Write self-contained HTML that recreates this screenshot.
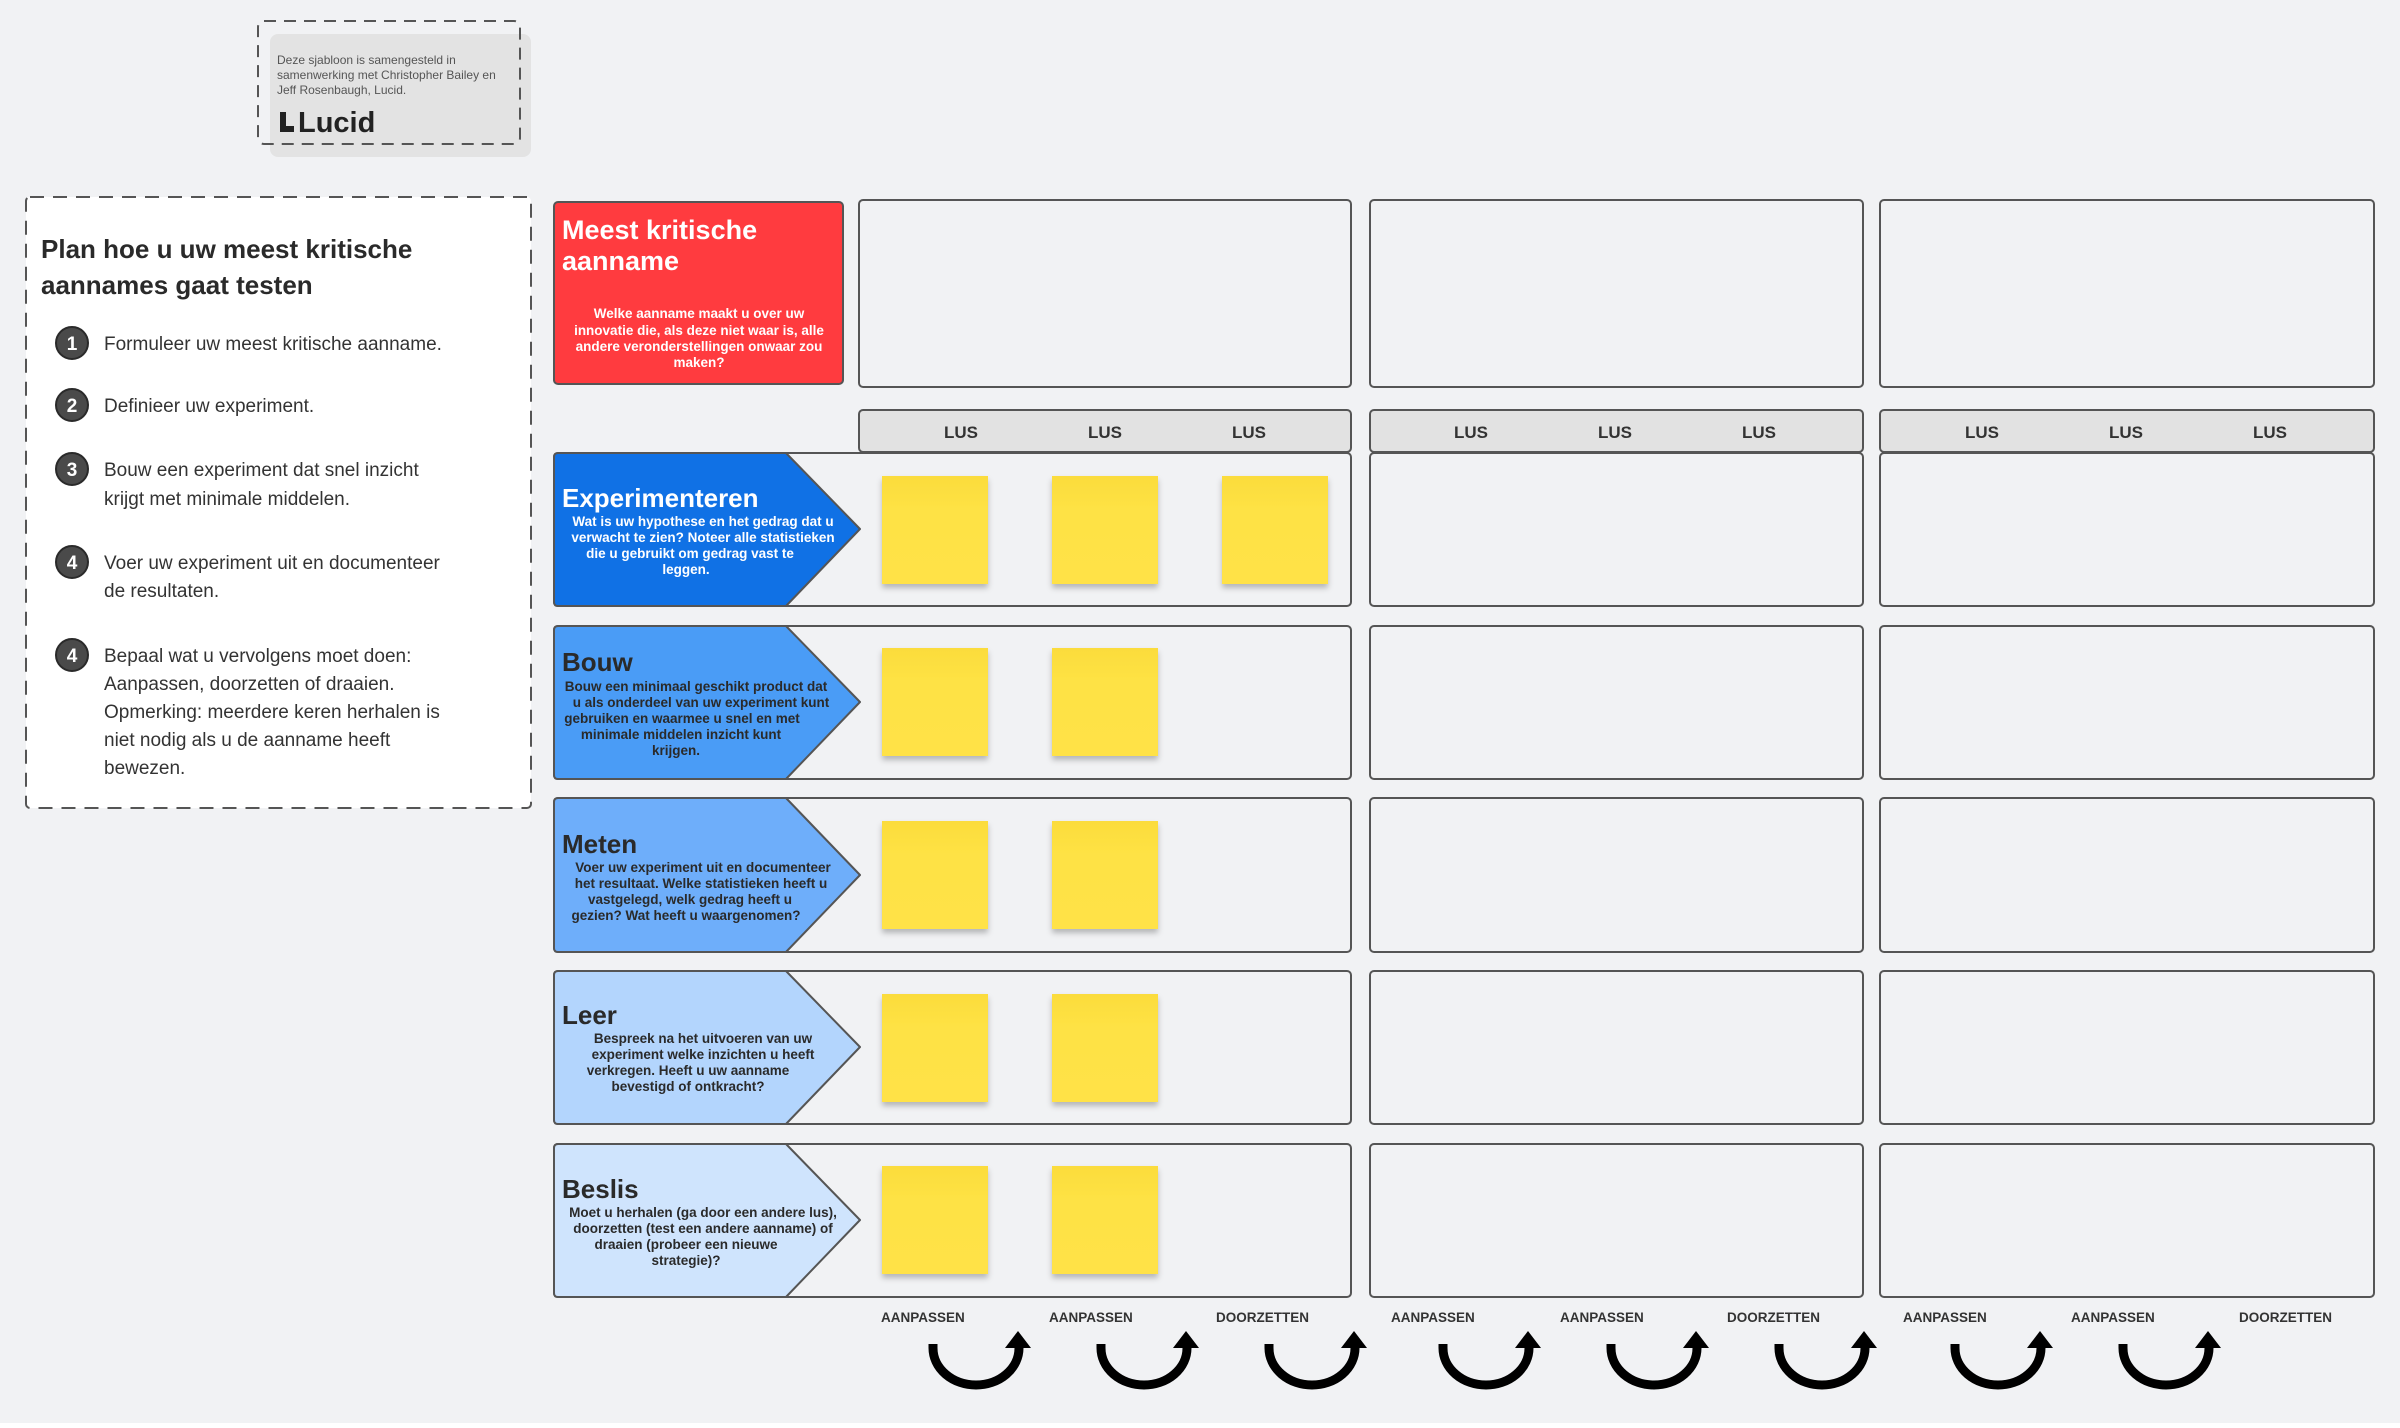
<!DOCTYPE html>
<html><head><meta charset="utf-8"><style>
html,body{margin:0;padding:0;background:#f1f2f4;}
svg{display:block;font-family:"Liberation Sans",sans-serif;}
</style></head><body>
<svg width="2400" height="1428" viewBox="0 0 2400 1428" xmlns="http://www.w3.org/2000/svg">
<rect x="0" y="0" width="2400" height="1428" fill="#f1f2f4"/>
<rect x="0" y="1423" width="2400" height="5" fill="#ffffff"/>

<!-- credit -->
<rect x="270" y="34" width="261" height="123" rx="8" fill="#e3e3e3"/>
<rect x="258" y="21" width="262" height="123" rx="6" fill="none" stroke="#555" stroke-width="2" stroke-dasharray="12 8"/>
<g font-size="12" fill="#555">
<text x="277" y="64">Deze sjabloon is samengesteld in</text>
<text x="277" y="79">samenwerking met Christopher Bailey en</text>
<text x="277" y="94">Jeff Rosenbaugh, Lucid.</text>
</g>
<polygon points="280,112 286,112 286,126 294,126 294,132 280,132" fill="#222"/>
<text x="298" y="132" font-size="29" font-weight="bold" fill="#222">Lucid</text>

<!-- left panel -->
<rect x="26" y="197" width="505" height="611" rx="4" fill="#ffffff" stroke="#555" stroke-width="2" stroke-dasharray="14 9"/>
<g font-size="26" font-weight="bold" fill="#2a2a2a">
<text x="41" y="258">Plan hoe u uw meest kritische</text>
<text x="41" y="294">aannames gaat testen</text>
</g>
<g font-size="19" fill="#333">
<circle cx="72" cy="343" r="16" fill="#4a4a4a" stroke="#2a2a2a" stroke-width="2"/><text x="72" y="350" fill="#fff" font-weight="bold" text-anchor="middle">1</text>
<text x="104" y="350">Formuleer uw meest kritische aanname.</text>
<circle cx="72" cy="405" r="16" fill="#4a4a4a" stroke="#2a2a2a" stroke-width="2"/><text x="72" y="412" fill="#fff" font-weight="bold" text-anchor="middle">2</text>
<text x="104" y="412">Definieer uw experiment.</text>
<circle cx="72" cy="469" r="16" fill="#4a4a4a" stroke="#2a2a2a" stroke-width="2"/><text x="72" y="476" fill="#fff" font-weight="bold" text-anchor="middle">3</text>
<text x="104" y="476">Bouw een experiment dat snel inzicht</text>
<text x="104" y="505">krijgt met minimale middelen.</text>
<circle cx="72" cy="562" r="16" fill="#4a4a4a" stroke="#2a2a2a" stroke-width="2"/><text x="72" y="569" fill="#fff" font-weight="bold" text-anchor="middle">4</text>
<text x="104" y="569">Voer uw experiment uit en documenteer</text>
<text x="104" y="597">de resultaten.</text>
<circle cx="72" cy="655" r="16" fill="#4a4a4a" stroke="#2a2a2a" stroke-width="2"/><text x="72" y="662" fill="#fff" font-weight="bold" text-anchor="middle">4</text>
<text x="104" y="662">Bepaal wat u vervolgens moet doen:</text>
<text x="104" y="690">Aanpassen, doorzetten of draaien.</text>
<text x="104" y="718">Opmerking: meerdere keren herhalen is</text>
<text x="104" y="746">niet nodig als u de aanname heeft</text>
<text x="104" y="774">bewezen.</text>
</g>

<!-- red box -->
<rect x="554" y="202" width="289" height="182" rx="4" fill="#ff3b3f" stroke="#555" stroke-width="2"/>
<g font-size="27" font-weight="bold" fill="#fff">
<text x="562" y="239">Meest kritische</text>
<text x="562" y="270">aanname</text>
</g>
<g font-size="13.5" font-weight="bold" fill="#fff" text-anchor="middle">
<text x="699" y="318">Welke aanname maakt u over uw</text>
<text x="699" y="335">innovatie die, als deze niet waar is, alle</text>
<text x="699" y="351">andere veronderstellingen onwaar zou</text>
<text x="699" y="367">maken?</text>
</g>

<!-- top boxes & LUS headers -->
<g fill="#f1f2f4" stroke="#555" stroke-width="2">
<rect x="859" y="200" width="492" height="187" rx="4"/>
<rect x="1370" y="200" width="493" height="187" rx="4"/>
<rect x="1880" y="200" width="494" height="187" rx="4"/>
</g>
<g fill="#e2e2e2" stroke="#555" stroke-width="2">
<rect x="859" y="410" width="492" height="42" rx="4"/>
<rect x="1370" y="410" width="493" height="42" rx="4"/>
<rect x="1880" y="410" width="494" height="42" rx="4"/>
</g>
<g font-size="17" font-weight="bold" fill="#333" text-anchor="middle">
<text x="961" y="438">LUS</text><text x="1105" y="438">LUS</text><text x="1249" y="438">LUS</text>
<text x="1471" y="438">LUS</text><text x="1615" y="438">LUS</text><text x="1759" y="438">LUS</text>
<text x="1982" y="438">LUS</text><text x="2126" y="438">LUS</text><text x="2270" y="438">LUS</text>
</g>

<!-- rows -->
<g fill="#f1f2f4" stroke="#555" stroke-width="2">
<rect x="554" y="453" width="797" height="153" rx="4"/><rect x="1370" y="453" width="493" height="153" rx="4"/><rect x="1880" y="453" width="494" height="153" rx="4"/>
<rect x="554" y="626" width="797" height="153" rx="4"/><rect x="1370" y="626" width="493" height="153" rx="4"/><rect x="1880" y="626" width="494" height="153" rx="4"/>
<rect x="554" y="798" width="797" height="154" rx="4"/><rect x="1370" y="798" width="493" height="154" rx="4"/><rect x="1880" y="798" width="494" height="154" rx="4"/>
<rect x="554" y="971" width="797" height="153" rx="4"/><rect x="1370" y="971" width="493" height="153" rx="4"/><rect x="1880" y="971" width="494" height="153" rx="4"/>
<rect x="554" y="1144" width="797" height="153" rx="4"/><rect x="1370" y="1144" width="493" height="153" rx="4"/><rect x="1880" y="1144" width="494" height="153" rx="4"/>
</g>
<g stroke="#555" stroke-width="2" stroke-linejoin="round">
<path d="M558,453 L786,453 L860,529 L786,606 L558,606 Q554,606 554,602 L554,457 Q554,453 558,453Z" fill="#1071e5"/>
<path d="M558,626 L786,626 L860,702 L786,779 L558,779 Q554,779 554,775 L554,630 Q554,626 558,626Z" fill="#4a9cf6"/>
<path d="M558,798 L786,798 L860,875 L786,952 L558,952 Q554,952 554,948 L554,802 Q554,798 558,798Z" fill="#6eaefa"/>
<path d="M558,971 L786,971 L860,1047 L786,1124 L558,1124 Q554,1124 554,1120 L554,975 Q554,971 558,971Z" fill="#b3d5fd"/>
<path d="M558,1144 L786,1144 L860,1220 L786,1297 L558,1297 Q554,1297 554,1293 L554,1148 Q554,1144 558,1144Z" fill="#cfe4fd"/>
</g>
<g font-size="26" font-weight="bold">
<text x="562" y="507" fill="#fff">Experimenteren</text>
<text x="562" y="671" fill="#2a2a2a">Bouw</text>
<text x="562" y="853" fill="#2a2a2a">Meten</text>
<text x="562" y="1024" fill="#2a2a2a">Leer</text>
<text x="562" y="1198" fill="#2a2a2a">Beslis</text>
</g>
<g font-size="13.5" font-weight="bold" text-anchor="middle">
<g fill="#fff">
<text x="703" y="526">Wat is uw hypothese en het gedrag dat u</text>
<text x="703" y="542">verwacht te zien? Noteer alle statistieken</text>
<text x="690" y="558">die u gebruikt om gedrag vast te</text>
<text x="686" y="574">leggen.</text>
</g>
<g fill="#2a2a2a">
<text x="696" y="691">Bouw een minimaal geschikt product dat</text>
<text x="701" y="707">u als onderdeel van uw experiment kunt</text>
<text x="682" y="723">gebruiken en waarmee u snel en met</text>
<text x="681" y="739">minimale middelen inzicht kunt</text>
<text x="676" y="755">krijgen.</text>
<text x="703" y="872">Voer uw experiment uit en documenteer</text>
<text x="701" y="888">het resultaat. Welke statistieken heeft u</text>
<text x="690" y="904">vastgelegd, welk gedrag heeft u</text>
<text x="686" y="920">gezien? Wat heeft u waargenomen?</text>
<text x="703" y="1043">Bespreek na het uitvoeren van uw</text>
<text x="703" y="1059">experiment welke inzichten u heeft</text>
<text x="688" y="1075">verkregen. Heeft u uw aanname</text>
<text x="688" y="1091">bevestigd of ontkracht?</text>
<text x="703" y="1217">Moet u herhalen (ga door een andere lus),</text>
<text x="703" y="1233">doorzetten (test een andere aanname) of</text>
<text x="686" y="1249">draaien (probeer een nieuwe</text>
<text x="686" y="1265">strategie)?</text>
</g>
</g>

<!-- stickies -->
<defs><linearGradient id="yg" x1="0" y1="0" x2="0" y2="1"><stop offset="0" stop-color="#fbdc3c"/><stop offset="0.3" stop-color="#fee244"/><stop offset="1" stop-color="#ffe247"/></linearGradient>
<filter id="sh" x="-20%" y="-20%" width="140%" height="150%"><feDropShadow dx="0" dy="4" stdDeviation="3" flood-color="#000" flood-opacity="0.25"/></filter></defs>
<g fill="url(#yg)" filter="url(#sh)">
<rect x="882" y="476" width="106" height="108"/><rect x="1052" y="476" width="106" height="108"/><rect x="1222" y="476" width="106" height="108"/>
<rect x="882" y="648" width="106" height="108"/><rect x="1052" y="648" width="106" height="108"/>
<rect x="882" y="821" width="106" height="108"/><rect x="1052" y="821" width="106" height="108"/>
<rect x="882" y="994" width="106" height="108"/><rect x="1052" y="994" width="106" height="108"/>
<rect x="882" y="1166" width="106" height="108"/><rect x="1052" y="1166" width="106" height="108"/>
</g>

<!-- bottom labels -->
<g font-size="13.5" font-weight="bold" fill="#333">
<text x="881" y="1322">AANPASSEN</text><text x="1049" y="1322">AANPASSEN</text><text x="1216" y="1322">DOORZETTEN</text>
<text x="1391" y="1322">AANPASSEN</text><text x="1560" y="1322">AANPASSEN</text><text x="1727" y="1322">DOORZETTEN</text>
<text x="1903" y="1322">AANPASSEN</text><text x="2071" y="1322">AANPASSEN</text><text x="2239" y="1322">DOORZETTEN</text>
</g>

<!-- U-turn arrows -->
<defs>
<g id="ua">
<path d="M0,0 L0,4 A43,37 0 0 0 86,4 L86,0" fill="none" stroke="#000" stroke-width="9"/>
<polygon points="85,-13 72,4 98,4" fill="#000"/>
</g>
</defs>
<use href="#ua" x="933" y="1344"/>
<use href="#ua" x="1101" y="1344"/>
<use href="#ua" x="1269" y="1344"/>
<use href="#ua" x="1443" y="1344"/>
<use href="#ua" x="1611" y="1344"/>
<use href="#ua" x="1779" y="1344"/>
<use href="#ua" x="1955" y="1344"/>
<use href="#ua" x="2123" y="1344"/>
</svg>
</body></html>
